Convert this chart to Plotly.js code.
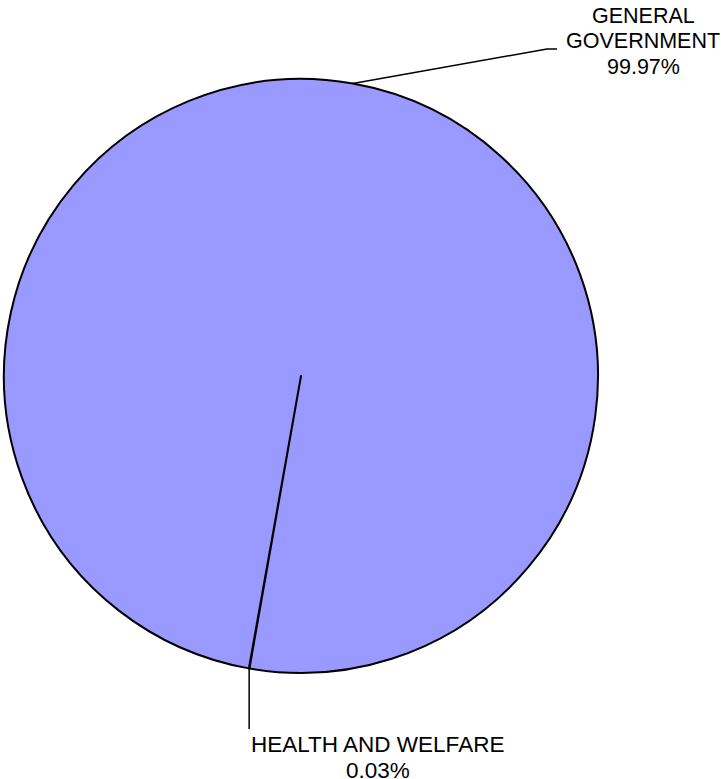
<!DOCTYPE html>
<html>
<head>
<meta charset="utf-8">
<script src="https://cdn.plot.ly/plotly-3.0.1.min.js"></script>
<style>html,body{margin:0;padding:0;background:#fff;}#chart{width:726px;height:779px;}</style>
</head>
<body>
<div id="chart"></div>
<script>
// Data
var categories = ["HEALTH AND WELFARE", "GENERAL GOVERNMENT"];
var labelLines = [["HEALTH AND WELFARE"], ["GENERAL", "GOVERNMENT"]];
var shares = [0.03, 99.97];

// Layout constants (pixels)
var W = 726, H = 779;
var M = {l: 4, r: 128, t: 79, b: 106};
var ROT = 190;
var plotW = W - M.l - M.r, plotH = H - M.t - M.b;
var R = Math.min(plotW, plotH) / 2;
var CX = M.l + plotW / 2, CY = M.t + plotH / 2;
function px(x) { return (x - M.l) / plotW; }
function py(y) { return (H - M.b - y) / plotH; }

var total = shares.reduce(function(a, b) { return a + b; }, 0);
var mids = [];
var ang = ROT * Math.PI / 180;
shares.forEach(function(v) {
  var a = ang + (v / total) * Math.PI;
  mids.push([CX + R * Math.sin(a), CY - R * Math.cos(a)]);
  ang += (v / total) * 2 * Math.PI;
});
var pct = shares.map(function(v) { return (v / total * 100).toFixed(2) + '%'; });

var FAM = "Liberation Sans, Arial, sans-serif";
var annotations = [];
var shapes = [];
function addText(lines, cx, y0, step, size) {
  lines.forEach(function(t, i) {
    annotations.push({xref: 'paper', yref: 'paper', x: px(cx), y: py(y0 + i * step),
      xanchor: 'center', yanchor: 'middle', text: t, showarrow: false,
      font: {family: FAM, size: size, color: '#000'}});
  });
}
// Health label (index 0)
var hp = mids[0];
shapes.push({type: 'path', xref: 'paper', yref: 'paper',
  path: 'M' + px(hp[0]) + ',' + py(hp[1]) + ' L' + px(hp[0]) + ',' + py(729),
  line: {color: '#000', width: 1.5}});
addText(labelLines[0].concat([pct[0]]), 377.5, 744, 26, 22.5);
// General label (index 1)
var gp = mids[1];
shapes.push({type: 'path', xref: 'paper', yref: 'paper',
  path: 'M' + px(gp[0]) + ',' + py(gp[1]) + ' L' + px(547) + ',' + py(49) + ' L' + px(557) + ',' + py(49),
  line: {color: '#000', width: 1.5}});
addText(labelLines[1].concat([pct[1]]), 643, 16.5, 25, 21.5);

var trace = {
  type: 'pie',
  labels: categories,
  values: shares,
  sort: false,
  direction: 'clockwise',
  rotation: ROT,
  textinfo: 'none',
  hoverinfo: 'label+percent',
  marker: {colors: ['#9999FF', '#9999FF'], line: {color: '#000', width: 2}},
  domain: {x: [0, 1], y: [0, 1]}
};

var layout = {
  width: W, height: H,
  margin: M,
  showlegend: false,
  paper_bgcolor: '#fff',
  plot_bgcolor: '#fff',
  annotations: annotations,
  shapes: shapes
};
Plotly.newPlot('chart', [trace], layout, {displayModeBar: false, staticPlot: true});
</script>
</body>
</html>
